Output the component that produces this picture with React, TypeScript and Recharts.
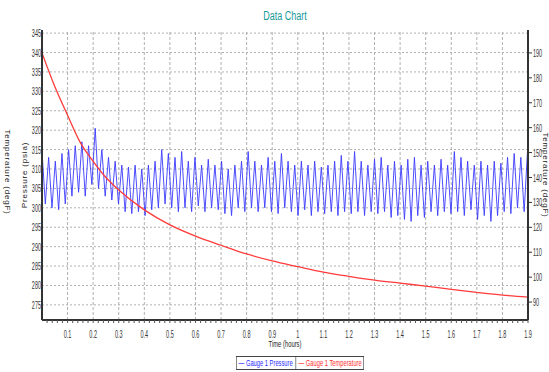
import React from "react";
import { Line, LineChart, ReferenceLine, XAxis, YAxis } from "recharts";

const FONT = "'Liberation Sans', Arial, sans-serif";

// sample spacing of the pressure trace, hours
const pressureStep = 0.013;

// Gauge 1 pressure (psia), alternating peaks and troughs
const pressureValues = [
  314.5, 301, 313, 300, 312, 299.5, 314, 301, 315, 303,
  316, 304, 317, 303, 316, 306, 320.5, 305, 315, 303,
  313, 302, 312, 301, 311, 299, 310.5, 298.5, 311, 299,
  310, 298, 311, 299.5, 312, 300, 315, 301, 314, 300,
  313, 299, 314.5, 300, 312, 299, 313, 300.5, 311, 299,
  312.5, 300, 311, 299.5, 312, 298.5, 310, 298, 311, 300,
  312, 299, 314.5, 300, 312, 299, 311, 300, 313, 299,
  312, 298.5, 314, 300, 312, 299, 311, 298, 312, 299.5,
  311, 298, 312, 299, 310.5, 298.5, 311, 299, 312, 298,
  313.5, 299, 312, 298.5, 314.5, 299, 312, 298, 311, 299,
  312.5, 298.5, 313, 299, 311, 297.5, 312, 298, 311, 297,
  312.5, 296.5, 313, 298, 311, 297.5, 312, 299, 311, 298,
  312.5, 299, 311, 298.5, 314.5, 299, 313, 298, 312, 299.5,
  311, 297, 312, 298, 311, 296.5, 312, 298, 311.5, 299,
  313, 298.5, 314, 300, 313, 299, 314.5,
];

// Gauge 1 temperature (degF)
const tempTimes = [0, 0.05, 0.1, 0.15, 0.2, 0.25, 0.3, 0.4, 0.5, 0.6, 0.7, 0.8, 0.9, 1.0, 1.1, 1.2, 1.3, 1.4, 1.5, 1.6, 1.7, 1.8, 1.9];
const tempValues = [190, 176.5, 165, 154, 146.5, 140, 135, 127, 121, 116.5, 112.8, 109.3, 106.5, 104.2, 102, 100.3, 98.8, 97.6, 96.4, 95.1, 93.9, 92.8, 92];

const xTicks = [0.1, 0.2, 0.3, 0.4, 0.5, 0.6, 0.7, 0.8, 0.9, 1, 1.1, 1.2, 1.3, 1.4, 1.5, 1.6, 1.7, 1.8, 1.9];
const minorTicks = Array.from({ length: 95 }, (_, i) => +((i + 1) * 0.02).toFixed(2));
const pressureTicks = [275, 280, 285, 290, 295, 300, 305, 310, 315, 320, 325, 330, 335, 340, 345];
const tempTicks = [90, 100, 110, 120, 130, 140, 150, 160, 170, 180, 190];

const pressureData = pressureValues.map((p, i) => ({ t: +(i * pressureStep).toFixed(3), p }));
const tempData = tempTimes.map((t, i) => ({ t, temp: tempValues[i] }));

const fmtX = (v: number) => {
  const r = Math.round(v * 100);
  return r % 10 === 0 ? String(+(r / 100).toFixed(1)) : "";
};

// narrow tick text, squeezed horizontally like the original condensed font
const NarrowTick = (anchor: "start" | "middle" | "end", dy: number, fmt?: (v: number) => string) =>
  (props: any) => {
    const { x, y, payload } = props;
    const label = fmt ? fmt(payload.value) : String(payload.value);
    if (!label) return <g />;
    return (
      <text
        transform={`translate(${x},${y}) scale(0.5,1)`}
        textAnchor={anchor}
        dy={dy}
        fontSize={11}
        fontFamily={FONT}
        fill="#333"
      >
        {label}
      </text>
    );
  };

const narrow = (extra: React.CSSProperties): React.CSSProperties => ({
  position: "absolute",
  whiteSpace: "nowrap",
  fontSize: 9,
  color: "#222",
  ...extra,
});

export default function App() {
  return (
    <div style={{ position: "absolute", left: 0, top: 0, width: 549, height: 372, background: "#fff", fontFamily: FONT }}>
      <LineChart width={549} height={372} margin={{ top: 30, right: 0, left: 0, bottom: 32 }}>
        {pressureTicks.map((v) => (
          <ReferenceLine key={`h${v}`} y={v} yAxisId="left" stroke="#b0b0b0" strokeDasharray="2 2" />
        ))}
        {xTicks.map((v) => (
          <ReferenceLine key={`v${v}`} x={v} yAxisId="left" stroke="#b0b0b0" strokeDasharray="3 2" />
        ))}
        <XAxis
          dataKey="t"
          type="number"
          domain={[0, 1.9]}
          ticks={minorTicks}
          interval={0}
          height={20}
          tickSize={3}
          tick={NarrowTick("middle", 13, fmtX)}
          axisLine={{ stroke: "#333", strokeWidth: 2 }}
          tickLine={{ stroke: "#555" }}
          allowDataOverflow
        />
        <XAxis
          xAxisId="top"
          orientation="top"
          dataKey="t"
          type="number"
          domain={[0, 1.9]}
          ticks={minorTicks}
          tickFormatter={() => ""}
          interval={0}
          height={0}
          mirror
          tickSize={3}
          axisLine={{ stroke: "#999" }}
          tickLine={{ stroke: "#999" }}
        />
        <YAxis
          yAxisId="left"
          domain={[271.1, 345.8]}
          ticks={pressureTicks}
          interval={0}
          width={42}
          tickLine={false}
          tickSize={0}
          tickMargin={1}
          tick={NarrowTick("end", 4)}
          axisLine={{ stroke: "#333", strokeWidth: 2 }}
          allowDataOverflow
        />
        <YAxis
          yAxisId="right"
          orientation="right"
          domain={[82.8, 199.2]}
          ticks={tempTicks}
          interval={0}
          width={21}
          tickSize={4}
          tickMargin={1}
          tick={NarrowTick("start", 4)}
          axisLine={{ stroke: "#333", strokeWidth: 2 }}
          tickLine={{ stroke: "#333" }}
          allowDataOverflow
        />
        <Line
          yAxisId="left"
          data={pressureData}
          dataKey="p"
          type="linear"
          stroke="#3a3aff"
          strokeWidth={0.9}
          dot={false}
          isAnimationActive={false}
          name="Gauge 1 Pressure"
        />
        <Line
          yAxisId="right"
          data={tempData}
          dataKey="temp"
          type="monotone"
          stroke="#ff3b3b"
          strokeWidth={1.3}
          dot={false}
          isAnimationActive={false}
          name="Gauge 1 Temperature"
        />
      </LineChart>

      <div style={narrow({ left: 285, top: 9, fontSize: 12, color: "#18999a", transform: "translateX(-50%) scaleX(0.75)" })}>
        Data Chart
      </div>

      <div style={narrow({ left: 7, top: 172, fontSize: 8, letterSpacing: 0.8, transform: "translate(-50%, -50%) rotate(90deg)" })}>
        Temperature (degF)
      </div>
      <div style={narrow({ left: 24, top: 175, fontSize: 8, letterSpacing: 0.8, transform: "translate(-50%, -50%) rotate(-90deg)" })}>
        Pressure (psia)
      </div>
      <div style={narrow({ left: 545, top: 175, fontSize: 8, letterSpacing: 0.8, transform: "translate(-50%, -50%) rotate(90deg)" })}>
        Temperature (degF)
      </div>

      <div style={narrow({ left: 285, top: 339, fontSize: 9, transform: "translateX(-50%) scaleX(0.65)" })}>
        Time (hours)
      </div>

      <div
        style={{
          position: "absolute",
          left: 236,
          top: 356,
          height: 12,
          display: "flex",
          border: "1px solid #444",
          fontSize: 9,
          lineHeight: "12px",
          background: "#fff",
          whiteSpace: "nowrap",
          transform: "scaleX(0.64)",
          transformOrigin: "left top",
        }}
      >
        <div style={{ color: "#2a2aff", padding: "0 4px 0 3px", borderRight: "1px solid #444" }}>— Gauge 1 Pressure</div>
        <div style={{ color: "#ff3030", padding: "0 3px 0 4px" }}>— Gauge 1 Temperature</div>
      </div>
    </div>
  );
}
